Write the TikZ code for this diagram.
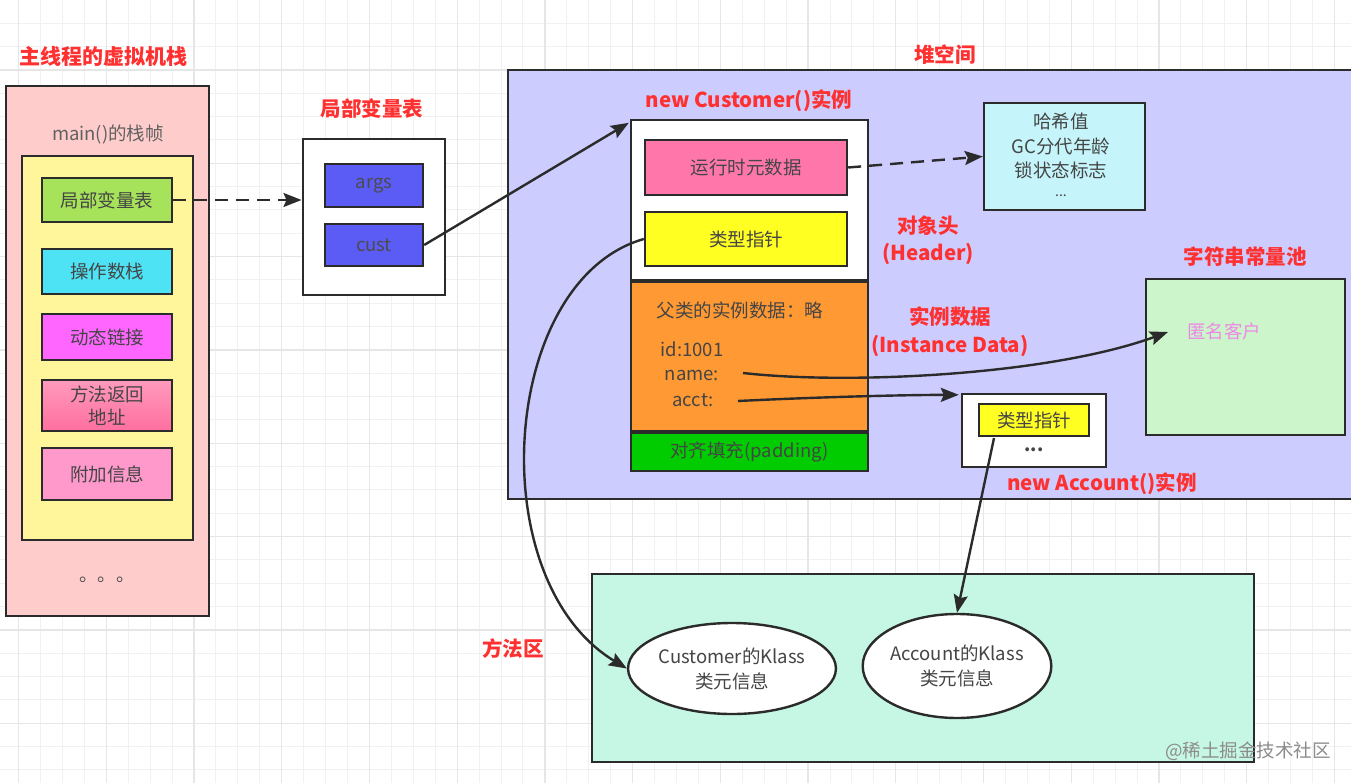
\documentclass[tikz,border=0pt]{standalone}
\usepackage{fontspec}
\setmainfont{Noto Sans CJK SC}
\usetikzlibrary{arrows.meta,shapes.geometric}
\definecolor{bd}{HTML}{2B2B2B}
\definecolor{redt}{HTML}{FF3030}
\definecolor{txtc}{HTML}{454545}
\definecolor{gminor}{HTML}{F1F1F1}
\definecolor{gmajor}{HTML}{E6E6E6}
\definecolor{cstack}{HTML}{FFCCCC}
\definecolor{cframe}{HTML}{FFF59A}
\definecolor{clvt}{HTML}{A6E35A}
\definecolor{cops}{HTML}{4DE3F5}
\definecolor{cdyn}{HTML}{FF66FF}
\definecolor{cret}{HTML}{FF6F9F}
\definecolor{cextra}{HTML}{FF99CC}
\definecolor{cvar}{HTML}{5B5BF5}
\definecolor{cheap}{HTML}{CCCCFF}
\definecolor{cmeta}{HTML}{FF77AA}
\definecolor{cptr}{HTML}{FFFF22}
\definecolor{corange}{HTML}{FF9933}
\definecolor{cpad}{HTML}{00CC00}
\definecolor{chash}{HTML}{C5F5FA}
\definecolor{cpool}{HTML}{CCF5CC}
\definecolor{cmethod}{HTML}{C6F6E4}
\definecolor{canon}{HTML}{EE88E6}
\begin{document}
\begin{tikzpicture}[x=1pt,y=-1pt,
  box/.style={draw=bd, line width=2.4pt, inner sep=0pt, rectangle,
    font=\fontsize{18.5}{22}\selectfont, text=txtc},
  title/.style={font=\fontsize{20.5}{27}\selectfont\bfseries, text=redt, align=center, inner sep=0pt},
  plain/.style={font=\fontsize{18.5}{24.5}\selectfont, text=txtc, align=center, inner sep=0pt},
  tip/.style={-{Stealth[length=18pt,width=14pt,inset=3pt]}},
  arr/.style={draw=bd, line width=2.4pt, tip},
  darr/.style={arr, dash pattern=on 13pt off 8pt},
  ell/.style={draw=bd, line width=2.4pt, ellipse, fill=white, inner sep=0pt,
    font=\fontsize{18.5}{25}\selectfont, text=txtc, align=center}
]
\useasboundingbox (0,0) rectangle (1351,783);
\fill[white] (0,0) rectangle (1351,783);
% grid
\foreach \k in {0,...,61}{\pgfmathsetmacro\xx{18.6+\k*21.93}\draw[gminor,line width=1pt] (\xx,0) -- (\xx,783);}
\foreach \k in {1,...,33}{\pgfmathsetmacro\yy{\k*23.33}\draw[gminor,line width=1pt] (0,\yy) -- (1351,\yy);}
\foreach \k in {0,4,...,60}{\pgfmathsetmacro\xx{18.6+\k*21.93}\draw[gmajor,line width=1.2pt] (\xx,0) -- (\xx,783);}
\foreach \k in {3,7,...,31}{\pgfmathsetmacro\yy{\k*23.33}\draw[gmajor,line width=1.2pt] (0,\yy) -- (1351,\yy);}

% ---------- stack ----------
\node[title, font=\fontsize{21}{27}\selectfont\bfseries] (t1) at (103,56) {主线程的虚拟机栈};
\node[box, fill=cstack, minimum width=203pt, minimum height=530pt] (stack) at (107.5,351) {};
\node[plain, text=black!62] (mainf) at (108,135) {main()的栈帧};
\node[box, fill=cframe, minimum width=171pt, minimum height=384pt] (frame) at (107.5,348) {};
\node[box, fill=clvt, minimum width=130pt, minimum height=44pt] (lvt) at (107,200) {局部变量表};
\node[box, fill=cops, minimum width=130pt, minimum height=45pt] (ops) at (107,271.5) {操作数栈};
\node[box, fill=cdyn, minimum width=130pt, minimum height=46pt] (dyn) at (107,337) {动态链接};
\node[box, top color=cret!70!white, bottom color=cret, minimum width=130pt, minimum height=51pt, align=center,
  font=\fontsize{18.5}{23}\selectfont] (ret) at (107,405.5) {方法返回\\地址};
\node[box, fill=cextra, minimum width=130pt, minimum height=52pt] (extra) at (107,474) {附加信息};
\node[plain, anchor=base, text=black!70] (dots) at (107,581) {。。。};

% ---------- local variable table ----------
\node[title] (t2) at (372,109) {局部变量表};
\node[box, fill=white, minimum width=142pt, minimum height=156pt] (lvtbox) at (373.7,217) {};
\node[box, fill=cvar, minimum width=98pt, minimum height=43pt, text=black!70] (args) at (374,185.5) {args};
\node[box, fill=cvar, minimum width=98pt, minimum height=42pt, text=black!70] (cust) at (374,245) {cust};

% ---------- heap ----------
\node[title] (t3) at (945,55) {堆空间};
\node[box, fill=cheap, minimum width=852pt, minimum height=429pt] (heap) at (934,284.5) {};
\node[title] (t4) at (749,101) {new Customer()实例};
\node[box, fill=white, minimum width=237pt, minimum height=160pt] (hdr) at (749.5,200) {};
\node[box, fill=cmeta, minimum width=202pt, minimum height=55pt] (meta) at (746,167.5) {运行时元数据};
\node[box, fill=cptr, minimum width=202pt, minimum height=54pt] (ptr) at (746,239) {类型指针};
\node[box, fill=corange, minimum width=237pt, minimum height=149pt] (inst) at (749.5,356.5) {};
\node[box, fill=cpad, minimum width=237pt, minimum height=38pt] (pad) at (749.5,452) {对齐填充(padding)};
\node[plain] (parent) at (740,310) {父类的实例数据：略};
\node[plain] (fid) at (692,349) {id:1001};
\node[plain] (fname) at (692,375) {name:};
\node[plain] (facct) at (693,400) {acct:};
\node[title] (t5) at (928,240) {对象头\\(Header)};
\node[title, font=\fontsize{20.5}{28}\selectfont\bfseries] (t6) at (950,332) {实例数据\\(Instance Data)};

\node[box, fill=chash, minimum width=161pt, minimum height=107pt] (hash) at (1064.5,156.5) {};
\node[plain, font=\fontsize{18.5}{24.5}\selectfont] (hasht) at (1061,146) {哈希值\\GC分代年龄\\锁状态标志};
\node[plain, font=\fontsize{14}{16}\selectfont] (hashd) at (1061,196) {...};

\node[title] (t7) at (1245,257) {字符串常量池};
\node[box, fill=cpool, minimum width=199pt, minimum height=156pt] (pool) at (1245.5,357) {};
\node[plain, text=canon] (anon) at (1224,331) {匿名客户};

\node[box, fill=white, minimum width=144pt, minimum height=73pt] (aobj) at (1034,430.5) {};
\node[box, fill=cptr, minimum width=110pt, minimum height=32pt] (aptr) at (1034,420) {类型指针};
\node[plain, font=\fontsize{18}{20}\selectfont\bfseries] (adots) at (1034,450) {...};
\node[title] (t8) at (1102,484) {new Account()实例};

% ---------- method area ----------
\node[title] (t9) at (513,649) {方法区};
\node[box, fill=cmethod, minimum width=662pt, minimum height=188pt] (method) at (923,668) {};
\node[ell, minimum width=198pt, minimum height=91pt] (k1) at (732,668.5) {Customer的Klass\\类元信息};
\node[ell, minimum width=180pt, minimum height=104pt] (k2) at (957,666) {Account的Klass\\类元信息};
\node[plain, text=black!45, font=\fontsize{18.5}{22}\selectfont] (wm) at (1248,751) {@稀土掘金技术社区};

% ---------- connectors ----------
\coordinate (nstart) at (743,373);
\coordinate (astart) at (738,401);
\coordinate (poolin) at (1168,332);
\coordinate (pstart) at (994,438);
\draw[darr] (lvt.east) -- (lvt.east -| lvtbox.west);
\draw[arr] (cust.east) -- ([xshift=-1pt,yshift=-4pt]hdr.north west);
\draw[darr] (meta.east) -- (hash.west);
\draw[arr] (nstart) .. controls (850,385) and (1050,375) .. (poolin);
\draw[arr] (astart) .. controls (820,397) and (900,395) .. ([xshift=-2pt,yshift=-2pt]aobj.north west);
\draw[arr] (ptr.west) .. controls (500,280) and (480,580) .. (k1.west);
\draw[arr] (pstart) -- (k2.north);
\end{tikzpicture}
\end{document}
